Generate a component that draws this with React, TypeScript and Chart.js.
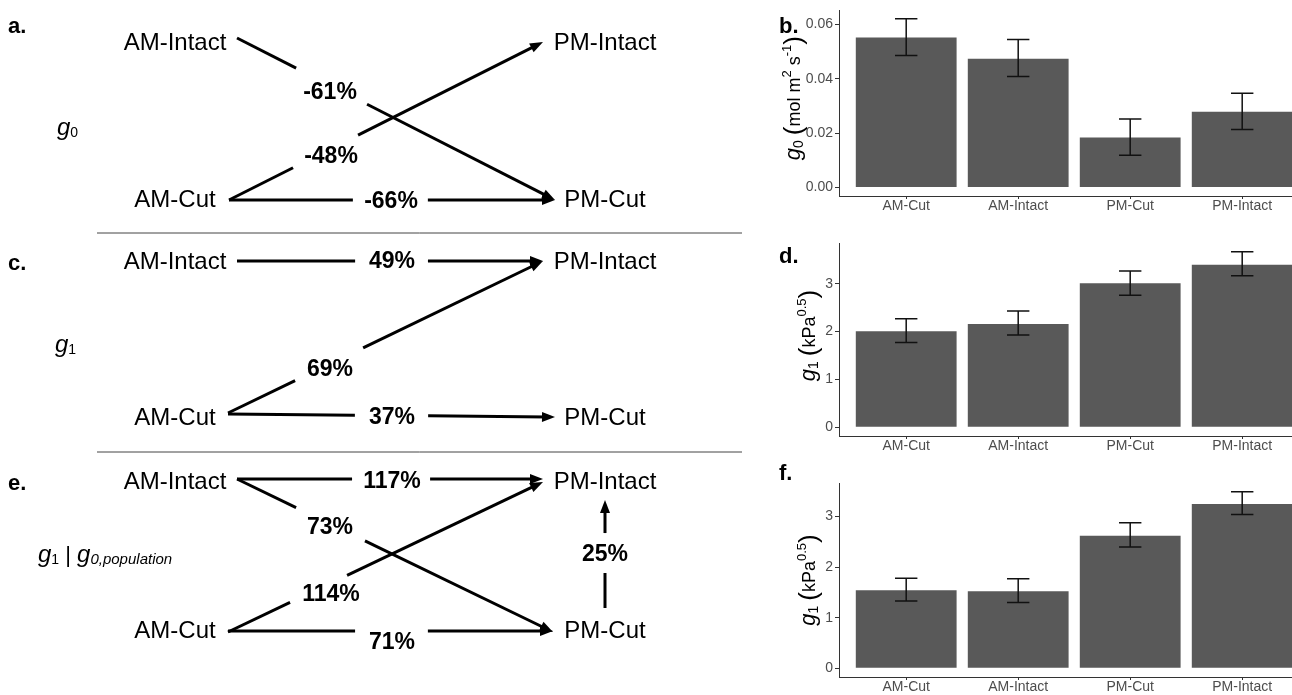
import React, { useEffect, useRef } from "react";
import { Chart, registerables } from "chart.js";

Chart.register(...registerables);

// ---------------- data ----------------
const categories = ["AM-Cut", "AM-Intact", "PM-Cut", "PM-Intact"];

const g0Means = [0.0552, 0.0474, 0.0184, 0.0279];
const g0Low = [0.0486, 0.0409, 0.0119, 0.0214];
const g0High = [0.0621, 0.0545, 0.0252, 0.0347];
const g0Ticks = [0, 0.02, 0.04, 0.06];

const g1Means = [2.01, 2.16, 3.01, 3.4];
const g1Low = [1.77, 1.93, 2.76, 3.17];
const g1High = [2.27, 2.43, 3.27, 3.67];
const g1Ticks = [0, 1, 2, 3];

const g1PopMeans = [1.54, 1.52, 2.62, 3.25];
const g1PopLow = [1.33, 1.3, 2.4, 3.04];
const g1PopHigh = [1.78, 1.77, 2.88, 3.49];
const g1PopTicks = [0, 1, 2, 3];

const nodeNames = ["AM-Intact", "PM-Intact", "AM-Cut", "PM-Cut"];
const changeA = ["-61%", "-48%", "-66%"];
const changeC = ["49%", "69%", "37%"];
const changeE = ["117%", "73%", "114%", "71%", "25%"];
const diagramLetters = ["a.", "c.", "e."];
const barLetters = ["b.", "d.", "f."];

// ---------------- layout ----------------
const FONT = "'Liberation Sans', Arial, Helvetica, sans-serif";

type Part = { t: string; size: number; italic?: boolean; bold?: boolean; dy?: number };

function partFont(p: Part) {
  return `${p.italic ? "italic " : ""}${p.bold ? "bold " : ""}${p.size}px ${FONT}`;
}

function drawRich(ctx: CanvasRenderingContext2D, parts: Part[], x: number, y: number, align: "left" | "center") {
  let w = 0;
  for (const p of parts) {
    ctx.font = partFont(p);
    w += ctx.measureText(p.t).width;
  }
  let cx = align === "center" ? x - w / 2 : x;
  ctx.textAlign = "left";
  ctx.textBaseline = "alphabetic";
  for (const p of parts) {
    ctx.font = partFont(p);
    ctx.fillText(p.t, cx, y + (p.dy || 0));
    cx += ctx.measureText(p.t).width;
  }
}

// diagram geometry (pixel-like diagram units)
const AM_X = 175;
const PM_X = 605;
const ROW_Y = [
  [43, 200],
  [262, 418],
  [482, 631],
];
const LETTER_BASE = [33, 270, 490];

type Edge = { p: number[]; gap: number[]; label: string; at: number[] };
const edges: Edge[] = [
  { p: [237, 38, 555, 200], gap: [0.186, 0.409], label: changeA[0], at: [330, 93] },
  { p: [229, 200, 543, 42], gap: [0.204, 0.411], label: changeA[1], at: [331, 157] },
  { p: [229, 200, 555, 200], gap: [0.38, 0.61], label: changeA[2], at: [391, 202] },
  { p: [237, 261, 543, 261], gap: [0.386, 0.624], label: changeC[0], at: [392, 262] },
  { p: [228, 413, 543, 261], gap: [0.213, 0.429], label: changeC[1], at: [330, 370] },
  { p: [228, 414, 555, 417], gap: [0.388, 0.612], label: changeC[2], at: [392, 418] },
  { p: [237, 479, 543, 479], gap: [0.376, 0.631], label: changeE[0], at: [392, 482] },
  { p: [237, 479, 553, 632], gap: [0.187, 0.405], label: changeE[1], at: [330, 528] },
  { p: [228, 632, 543, 482], gap: [0.197, 0.378], label: changeE[2], at: [331, 595] },
  { p: [228, 631, 553, 631], gap: [0.391, 0.615], label: changeE[3], at: [392, 643] },
  { p: [605, 608, 605, 500], gap: [0.324, 0.694], label: changeE[4], at: [605, 555] },
];
const SEPARATOR_Y = [233, 452];
const SEPARATOR_X = [97, 742];

const headings: { parts: Part[]; x: number; y: number }[] = [
  { parts: [{ t: "g", size: 24, italic: true }, { t: "0", size: 14, dy: 2 }], x: 57, y: 135 },
  { parts: [{ t: "g", size: 24, italic: true }, { t: "1", size: 14, dy: 2 }], x: 55, y: 352 },
  {
    parts: [
      { t: "g", size: 24, italic: true },
      { t: "1", size: 14, dy: 2 },
      { t: " | ", size: 22 },
      { t: "g", size: 24, italic: true },
      { t: "0,population", size: 15, italic: true, dy: 2 },
    ],
    x: 38,
    y: 562,
  },
];

function Diagram() {
  const ref = useRef<HTMLCanvasElement>(null);
  useEffect(() => {
    const datasets: any[] = [];
    const seg = (pts: { x: number; y: number }[], width: number, color: string) => ({
      data: pts,
      showLine: true,
      borderColor: color,
      borderWidth: width,
      borderCapStyle: "butt",
      pointRadius: 0,
      pointHoverRadius: 0,
      fill: false,
    });
    edges.forEach((e) => {
      const [x0, y0, x1, y1] = e.p;
      const dx = x1 - x0;
      const dy = y1 - y0;
      const len = Math.hypot(dx, dy);
      const ux = dx / len;
      const uy = dy / len;
      datasets.push(
        seg(
          [
            { x: x0, y: y0 },
            { x: x0 + dx * e.gap[0], y: y0 + dy * e.gap[0] },
          ],
          3,
          "#000"
        )
      );
      datasets.push({
        ...seg(
          [
            { x: x0 + dx * e.gap[1], y: y0 + dy * e.gap[1] },
            { x: x1 - ux * 8, y: y1 - uy * 8 },
          ],
          3,
          "#000"
        ),
        arrowTip: { x: x1, y: y1 },
      });
    });
    SEPARATOR_Y.forEach((y) => {
      datasets.push(
        seg(
          [
            { x: SEPARATOR_X[0], y },
            { x: SEPARATOR_X[1], y },
          ],
          1,
          "#444"
        )
      );
    });

    const arrowPlugin = {
      id: "arrowheads",
      afterDatasetsDraw(chart: any) {
        const { ctx } = chart;
        const xs = chart.scales.x;
        const ys = chart.scales.y;
        ctx.save();
        ctx.fillStyle = "#000";
        chart.data.datasets.forEach((ds: any) => {
          if (!ds.arrowTip) return;
          const last = ds.data[ds.data.length - 1];
          const tx = xs.getPixelForValue(ds.arrowTip.x);
          const ty = ys.getPixelForValue(ds.arrowTip.y);
          const lx = xs.getPixelForValue(last.x);
          const ly = ys.getPixelForValue(last.y);
          const a = Math.atan2(ty - ly, tx - lx);
          const L = 13;
          const H = 5;
          const bx = tx - Math.cos(a) * L;
          const by = ty - Math.sin(a) * L;
          ctx.beginPath();
          ctx.moveTo(tx, ty);
          ctx.lineTo(bx - Math.sin(a) * H, by + Math.cos(a) * H);
          ctx.lineTo(bx + Math.sin(a) * H, by - Math.cos(a) * H);
          ctx.closePath();
          ctx.fill();
        });
        ctx.restore();
      },
    };

    const textPlugin = {
      id: "diagramText",
      afterDraw(chart: any) {
        const { ctx } = chart;
        const xs = chart.scales.x;
        const ys = chart.scales.y;
        const px = (v: number) => xs.getPixelForValue(v);
        const py = (v: number) => ys.getPixelForValue(v);
        ctx.save();
        ctx.fillStyle = "#000";
        ctx.textAlign = "center";
        ctx.textBaseline = "middle";
        ctx.font = `24px ${FONT}`;
        ROW_Y.forEach(([yt, yb]) => {
          ctx.fillText(nodeNames[0], px(AM_X), py(yt));
          ctx.fillText(nodeNames[1], px(PM_X), py(yt));
          ctx.fillText(nodeNames[2], px(AM_X), py(yb));
          ctx.fillText(nodeNames[3], px(PM_X), py(yb));
        });
        ctx.font = `bold 23px ${FONT}`;
        edges.forEach((e) => ctx.fillText(e.label, px(e.at[0]), py(e.at[1])));
        ctx.textAlign = "left";
        ctx.textBaseline = "alphabetic";
        ctx.font = `bold 22px ${FONT}`;
        diagramLetters.forEach((l, i) => ctx.fillText(l, px(8), py(LETTER_BASE[i])));
        headings.forEach((h) => drawRich(ctx, h.parts, px(h.x), py(h.y), "left"));
        ctx.restore();
      },
    };

    const chart = new Chart(ref.current as HTMLCanvasElement, {
      type: "scatter",
      data: { datasets },
      options: {
        responsive: false,
        animation: false,
        events: [],
        layout: { padding: 0 },
        plugins: { legend: { display: false }, tooltip: { enabled: false } },
        scales: {
          x: { type: "linear", min: 0, max: 775, display: false },
          y: { type: "linear", min: 0, max: 695, reverse: true, display: false },
        },
      } as any,
      plugins: [arrowPlugin, textPlugin],
    });
    return () => chart.destroy();
  }, []);
  return <canvas ref={ref} width={775} height={695} style={{ position: "absolute", left: 0, top: 0 }} />;
}

type Geom = {
  top: number;
  height: number;
  padTop: number;
  xAxisH: number;
  titleX: number;
  titleDY: number;
  letterY: number;
};

const BAR_LEFT = 775;
const BAR_W = 1292 - BAR_LEFT;
const Y_AXIS_W = 64;
const UNIT_PX = 112;

function BarPanel(props: {
  means: number[];
  low: number[];
  high: number[];
  ticks: number[];
  decimals: number;
  title: Part[];
  letter: string;
  geom: Geom;
}) {
  const ref = useRef<HTMLCanvasElement>(null);
  const { means, low, high, ticks, decimals, title, letter, geom } = props;
  useEffect(() => {
    const topVal = Math.max(...high);
    const yMin = -0.05 * topVal;
    const yMax = 1.05 * topVal;
    const xMin = 0.4;
    const xMax = xMin + (BAR_W - Y_AXIS_W) / UNIT_PX;

    const errorBars = {
      id: "errorBars",
      afterDatasetsDraw(chart: any) {
        const { ctx } = chart;
        const x = chart.scales.x;
        const y = chart.scales.y;
        ctx.save();
        ctx.strokeStyle = "#111";
        ctx.lineWidth = 1.5;
        means.forEach((_, i) => {
          const xc = x.getPixelForValue(i + 1);
          const xl = x.getPixelForValue(i + 1 - 0.1);
          const xr = x.getPixelForValue(i + 1 + 0.1);
          const yl = y.getPixelForValue(low[i]);
          const yh = y.getPixelForValue(high[i]);
          ctx.beginPath();
          ctx.moveTo(xc, yl);
          ctx.lineTo(xc, yh);
          ctx.moveTo(xl, yl);
          ctx.lineTo(xr, yl);
          ctx.moveTo(xl, yh);
          ctx.lineTo(xr, yh);
          ctx.stroke();
        });
        ctx.restore();
      },
    };

    const titles = {
      id: "titles",
      afterDraw(chart: any) {
        const { ctx, chartArea } = chart;
        ctx.save();
        ctx.fillStyle = "#000";
        ctx.translate(geom.titleX, (chartArea.top + chartArea.bottom) / 2 + geom.titleDY);
        ctx.rotate(-Math.PI / 2);
        drawRich(ctx, title, 0, 7, "center");
        ctx.restore();
        ctx.save();
        ctx.fillStyle = "#000";
        ctx.font = `bold 22px ${FONT}`;
        ctx.textAlign = "left";
        ctx.textBaseline = "alphabetic";
        ctx.fillText(letter, 4, geom.letterY);
        ctx.restore();
      },
    };

    const axisGrid = (len: number) => ({
      display: true,
      offset: false,
      drawOnChartArea: false,
      drawTicks: true,
      tickLength: len,
      color: "#333",
      lineWidth: 1,
    });

    const chart = new Chart(ref.current as HTMLCanvasElement, {
      type: "bar",
      data: {
        datasets: [
          {
            data: means.map((v, i) => ({ x: i + 1, y: v })),
            backgroundColor: "#595959",
            borderWidth: 0,
            categoryPercentage: 0.9,
            barPercentage: 1,
          },
        ],
      },
      options: {
        responsive: false,
        animation: false,
        events: [],
        layout: { padding: { top: geom.padTop, left: 0, right: 0, bottom: 0 } },
        plugins: { legend: { display: false }, tooltip: { enabled: false } },
        scales: {
          x: {
            type: "linear",
            min: xMin,
            max: xMax,
            offset: false,
            afterBuildTicks: (s: any) => {
              s.ticks = categories.map((_, i) => ({ value: i + 1 }));
            },
            afterFit: (s: any) => {
              s.height = geom.xAxisH;
            },
            ticks: {
              callback: (v: any) => categories[Math.round(Number(v)) - 1],
              color: "#4d4d4d",
              font: { family: FONT, size: 14, lineHeight: 1 },
              padding: 0,
              maxRotation: 0,
              minRotation: 0,
              autoSkip: false,
            },
            grid: axisGrid(3),
            border: { display: true, color: "#333", width: 1 },
          },
          y: {
            type: "linear",
            min: yMin,
            max: yMax,
            afterBuildTicks: (s: any) => {
              s.ticks = ticks.map((v) => ({ value: v }));
            },
            afterFit: (s: any) => {
              s.width = Y_AXIS_W;
            },
            ticks: {
              callback: (v: any) => Number(v).toFixed(decimals),
              color: "#4d4d4d",
              font: { family: FONT, size: 14 },
              padding: 2,
            },
            grid: axisGrid(4),
            border: { display: true, color: "#333", width: 1 },
          },
        },
      } as any,
      plugins: [errorBars, titles],
    });
    return () => chart.destroy();
  }, []);
  return (
    <canvas
      ref={ref}
      width={BAR_W}
      height={geom.height}
      style={{ position: "absolute", left: BAR_LEFT, top: geom.top }}
    />
  );
}

const titleG0: Part[] = [
  { t: "g", size: 22, italic: true },
  { t: "0", size: 14, dy: 3 },
  { t: " ", size: 18 },
  { t: "(", size: 26, dy: 2 },
  { t: "mol m", size: 18 },
  { t: "2", size: 13, dy: -9 },
  { t: " s", size: 18 },
  { t: "-1", size: 13, dy: -9 },
  { t: ")", size: 26, dy: 2 },
];

const titleG1: Part[] = [
  { t: "g", size: 22, italic: true },
  { t: "1", size: 14, dy: 3 },
  { t: " ", size: 18 },
  { t: "(", size: 26, dy: 2 },
  { t: "kPa", size: 18 },
  { t: "0.5", size: 13, dy: -9 },
  { t: ")", size: 26, dy: 2 },
];

export default function App() {
  return (
    <div
      style={{
        position: "absolute",
        left: 0,
        top: 0,
        width: 1292,
        height: 695,
        overflow: "hidden",
        background: "#fff",
      }}
    >
      <Diagram />
      <BarPanel
        means={g0Means}
        low={g0Low}
        high={g0High}
        ticks={g0Ticks}
        decimals={2}
        title={titleG0}
        letter={barLetters[0]}
        geom={{ top: 0, height: 215, padTop: 1, xAxisH: 19, titleX: 18, titleDY: -5, letterY: 33 }}
      />
      <BarPanel
        means={g1Means}
        low={g1Low}
        high={g1High}
        ticks={g1Ticks}
        decimals={0}
        title={titleG1}
        letter={barLetters[1]}
        geom={{ top: 230, height: 225, padTop: 13, xAxisH: 19, titleX: 33, titleDY: -4, letterY: 33 }}
      />
      <BarPanel
        means={g1PopMeans}
        low={g1PopLow}
        high={g1PopHigh}
        ticks={g1PopTicks}
        decimals={0}
        title={titleG1}
        letter={barLetters[2]}
        geom={{ top: 460, height: 235, padTop: 23, xAxisH: 18, titleX: 33, titleDY: 0, letterY: 20 }}
      />
    </div>
  );
}
